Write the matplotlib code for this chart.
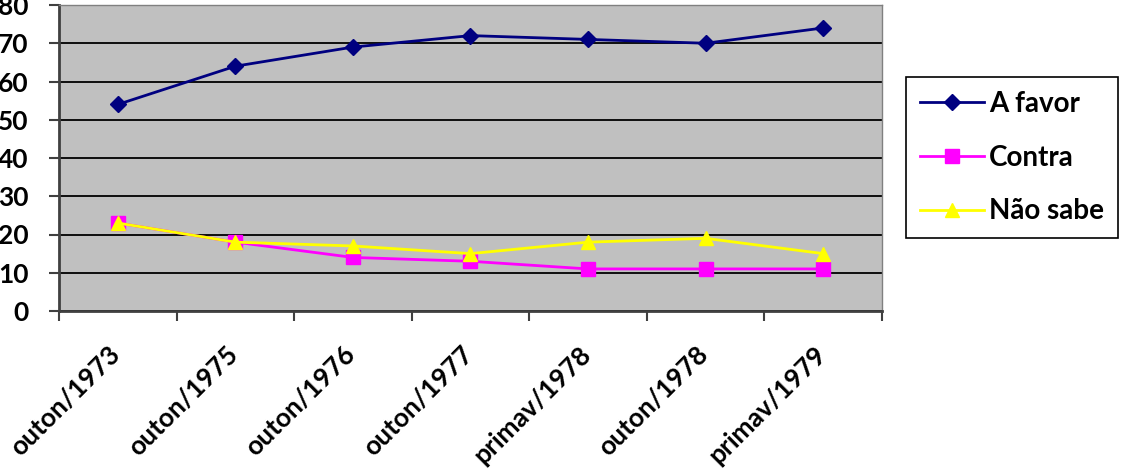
import numpy as np
import matplotlib
matplotlib.use("Agg")
import matplotlib.pyplot as plt
import matplotlib.transforms as mtransforms
from matplotlib.ticker import FixedLocator, NullFormatter

# datos
periodos = ["outon/1973", "outon/1975", "outon/1976", "outon/1977",
            "primav/1978", "outon/1978", "primav/1979"]
a_favor = [54, 64, 69, 72, 71, 70, 74]
contra = [23, 18, 14, 13, 11, 11, 11]
nao_sabe = [23, 18, 17, 15, 18, 19, 15]
y_ticks = [0, 10, 20, 30, 40, 50, 60, 70, 80]

plt.rcParams['font.family'] = ['Lato', 'DejaVu Sans']
plt.rcParams['font.weight'] = 'bold'

fig = plt.figure(figsize=(11.31, 4.75), dpi=100)
ax = fig.add_axes([59 / 1131, 164 / 475, 823 / 1131, 306 / 475])
ax.set_facecolor('#C0C0C0')

x = np.arange(len(periodos))
ax.plot(x, a_favor, color='#000080', marker='D', markersize=8, linewidth=2,
        label='A favor', zorder=3)
ax.plot(x, contra, color='#FF00FF', marker='s', markersize=10, linewidth=2,
        label='Contra', zorder=3)
ax.plot(x, nao_sabe, color='#FFFF00', marker='^', markersize=10, linewidth=2,
        label='Não sabe', zorder=4)

ax.set_xlim(-0.5, len(periodos) - 0.5)
ax.set_ylim(0, 80)
ax.set_yticks(y_ticks)
ax.set_yticklabels([str(v) for v in y_ticks], fontsize=19, fontweight='bold')

# marcas entre categorias, etiquetas en el centro (estilo Excel)
ax.xaxis.set_major_locator(FixedLocator(x))
ax.set_xticklabels(periodos, rotation=45, ha='right', rotation_mode='anchor',
                   fontsize=19, fontweight='bold')
ax.tick_params(axis='x', which='major', length=0, pad=22)
desplazar = mtransforms.ScaledTranslation(-10 / 100, 0, fig.dpi_scale_trans)
for etiqueta in ax.get_xticklabels():
    etiqueta.set_transform(etiqueta.get_transform() + desplazar)
ax.xaxis.set_minor_locator(FixedLocator(np.arange(-0.5, len(periodos), 1.0)))
ax.xaxis.set_minor_formatter(NullFormatter())
ax.tick_params(axis='x', which='minor', length=7, width=1.5, color='#404040')
ax.tick_params(axis='y', length=7, width=1.5, color='#404040', pad=15)

ax.yaxis.grid(True, color='black', linewidth=1.3)
ax.set_axisbelow(True)
for lado in ['left', 'bottom']:
    ax.spines[lado].set_color('#404040')
    ax.spines[lado].set_linewidth(2)
for lado in ['top', 'right']:
    ax.spines[lado].set_color('#808080')
    ax.spines[lado].set_linewidth(1)

leg = ax.legend(loc='upper left', bbox_to_anchor=(906 / 1131, 398 / 475),
                bbox_transform=fig.transFigure, borderaxespad=0,
                frameon=True, fancybox=False, edgecolor='black', framealpha=1,
                prop={'size': 20, 'weight': 'bold'},
                handlelength=2.3, labelspacing=1.0, borderpad=0.5,
                handletextpad=0.2)
leg.get_frame().set_linewidth(1.2)

plt.savefig('out.png', dpi=100)
